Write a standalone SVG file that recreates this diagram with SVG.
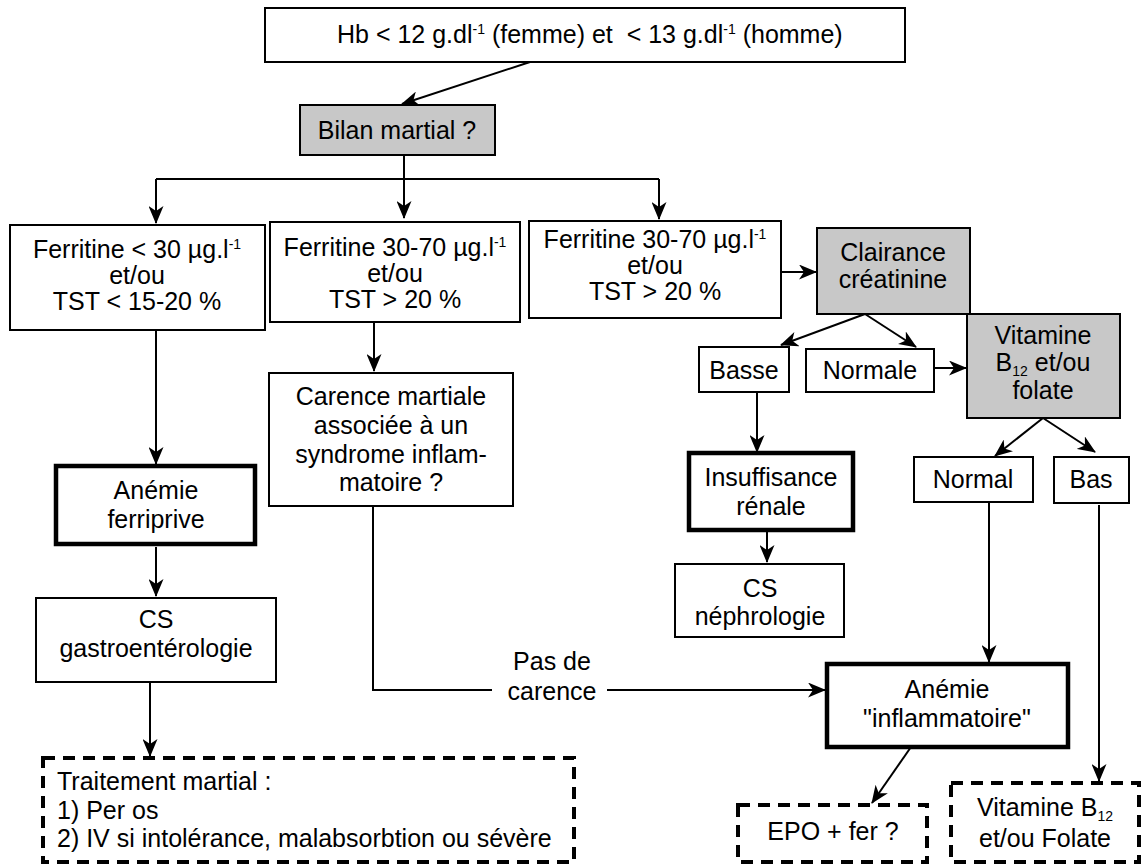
<svg xmlns="http://www.w3.org/2000/svg" width="1143" height="867" viewBox="0 0 1143 867">
<style>
text{font-family:"Liberation Sans",Arial,Helvetica,sans-serif;font-size:25px;fill:#000;text-anchor:middle}
.b{fill:#fff;stroke:#000;stroke-width:2}
.g{fill:#c8c8c8;stroke:#000;stroke-width:2}
.t{fill:#fff;stroke:#000;stroke-width:4.5}
.d{fill:#fff;stroke:#000;stroke-width:4;stroke-dasharray:12,8}
.c{fill:none;stroke:#000;stroke-width:2}
.l{text-anchor:start}
.sup{font-size:14px}
</style>
<defs>
<marker id="a" viewBox="0 0 18 15" refX="17" refY="7.5" markerWidth="18" markerHeight="15" markerUnits="userSpaceOnUse" orient="auto">
<path d="M0,0 L18,7.5 L0,15 L5,7.5 z" fill="#000"/>
</marker>
</defs>
<g id="connectors">
<path class="c" d="M530,62 L402,104" marker-end="url(#a)"/>
<path class="c" d="M404,155 L404,218" marker-end="url(#a)"/>
<path class="c" d="M156,179 L659,179"/>
<path class="c" d="M156,179 L156,223" marker-end="url(#a)"/>
<path class="c" d="M659,179 L659,219" marker-end="url(#a)"/>
<path class="c" d="M781,272 L816,272" marker-end="url(#a)"/>
<path class="c" d="M865,314 L781,345" marker-end="url(#a)"/>
<path class="c" d="M865,314 L916,347" marker-end="url(#a)"/>
<path class="c" d="M934,368 L966,368" marker-end="url(#a)"/>
<path class="c" d="M757,392 L757,452" marker-end="url(#a)"/>
<path class="c" d="M767,531 L767,562" marker-end="url(#a)"/>
<path class="c" d="M1043,418 L995,456" marker-end="url(#a)"/>
<path class="c" d="M1043,418 L1095,452" marker-end="url(#a)"/>
<path class="c" d="M989,503 L989,662" marker-end="url(#a)"/>
<path class="c" d="M1099,505 L1099,781" marker-end="url(#a)"/>
<path class="c" d="M911,747 L872,803" marker-end="url(#a)"/>
<path class="c" d="M156,330 L156,464" marker-end="url(#a)"/>
<path class="c" d="M156,547 L156,596" marker-end="url(#a)"/>
<path class="c" d="M150,683 L150,756" marker-end="url(#a)"/>
<path class="c" d="M374,322 L374,371" marker-end="url(#a)"/>
<path class="c" d="M373,506 L373,690 L492,690"/>
<path class="c" d="M607,690 L825,690" marker-end="url(#a)"/>
</g>
<g id="hb">
<rect class="b" x="265" y="8" width="640" height="54"/>
<text class="l" x="337" y="43" xml:space="preserve">Hb &lt; 12 g.dl<tspan class="sup" dy="-9">-1</tspan><tspan dy="9"> (femme) et  &lt; 13 g.dl</tspan><tspan class="sup" dy="-9">-1</tspan><tspan dy="9"> (homme)</tspan></text>
</g>
<g id="bilan">
<rect class="g" x="300" y="105" width="195" height="50"/>
<text x="397" y="139">Bilan martial ?</text>
</g>
<g id="ferr1">
<rect class="b" x="10" y="225" width="255" height="105"/>
<text x="137" y="258">Ferritine &lt; 30 µg.l<tspan class="sup" dy="-9">-1</tspan></text>
<text x="137" y="284">et/ou</text>
<text x="137" y="310">TST &lt; 15-20 %</text>
</g>
<g id="ferr2">
<rect class="b" x="270" y="222" width="250" height="100"/>
<text x="395" y="256">Ferritine 30-70 µg.l<tspan class="sup" dy="-9">-1</tspan></text>
<text x="395" y="282">et/ou</text>
<text x="395" y="308">TST &gt; 20 %</text>
</g>
<g id="ferr3">
<rect class="b" x="529" y="221" width="252" height="97"/>
<text x="655" y="248">Ferritine 30-70 µg.l<tspan class="sup" dy="-9">-1</tspan></text>
<text x="655" y="274">et/ou</text>
<text x="655" y="300">TST &gt; 20 %</text>
</g>
<g id="clairance">
<rect class="g" x="817" y="228" width="153" height="86"/>
<text x="893" y="261">Clairance</text>
<text x="893" y="288">créatinine</text>
</g>
<g id="basse">
<rect class="b" x="699" y="347" width="90" height="45"/>
<text x="744" y="379">Basse</text>
</g>
<g id="normale">
<rect class="b" x="806" y="349" width="128" height="43"/>
<text x="870" y="379">Normale</text>
</g>
<g id="vitb12">
<rect class="g" x="967" y="314" width="153" height="104"/>
<text x="1043" y="344">Vitamine</text>
<text x="1043" y="371">B<tspan class="sup" dy="5">12</tspan><tspan dy="-5"> et/ou</tspan></text>
<text x="1043" y="399">folate</text>
</g>
<g id="insuff">
<rect class="t" x="689" y="453" width="164" height="77"/>
<text x="771" y="486">Insuffisance</text>
<text x="771" y="515">rénale</text>
</g>
<g id="nephro">
<rect class="b" x="675" y="564" width="169" height="73"/>
<text x="760" y="597">CS</text>
<text x="760" y="625">néphrologie</text>
</g>
<g id="normal">
<rect class="b" x="914" y="457" width="119" height="45"/>
<text x="973" y="488">Normal</text>
</g>
<g id="bas">
<rect class="b" x="1054" y="457" width="75" height="46"/>
<text x="1091" y="488">Bas</text>
</g>
<g id="ferriprive">
<rect class="t" x="56" y="466" width="199" height="78"/>
<text x="156" y="499">Anémie</text>
<text x="156" y="528">ferriprive</text>
</g>
<g id="gastro">
<rect class="b" x="36" y="598" width="240" height="84"/>
<text x="156" y="628">CS</text>
<text x="156" y="657">gastroentérologie</text>
</g>
<g id="traitement">
<rect class="d" x="43" y="758" width="531" height="104"/>
<text class="l" x="57" y="790">Traitement martial :</text>
<text class="l" x="57" y="819">1) Per os</text>
<text class="l" x="57" y="847">2) IV si intolérance, malabsorbtion ou sévère</text>
</g>
<g id="carence">
<rect class="b" x="269" y="373" width="244" height="133"/>
<text x="391" y="405">Carence martiale</text>
<text x="391" y="434">associée à un</text>
<text x="391" y="463">syndrome inflam-</text>
<text x="391" y="491">matoire ?</text>
</g>
<g id="pasdecarence">
<text x="552" y="670">Pas de</text>
<text x="552" y="700">carence</text>
</g>
<g id="inflam">
<rect class="t" x="827" y="664" width="241" height="83"/>
<text x="947" y="698">Anémie</text>
<text x="947" y="727">"inflammatoire"</text>
</g>
<g id="epo">
<rect class="d" x="738" y="805" width="189" height="57"/>
<text x="833" y="840">EPO + fer ?</text>
</g>
<g id="vitfol">
<rect class="d" x="951" y="783" width="188" height="79"/>
<text x="1045" y="816">Vitamine B<tspan class="sup" dy="5">12</tspan></text>
<text x="1045" y="847">et/ou Folate</text>
</g>
</svg>
